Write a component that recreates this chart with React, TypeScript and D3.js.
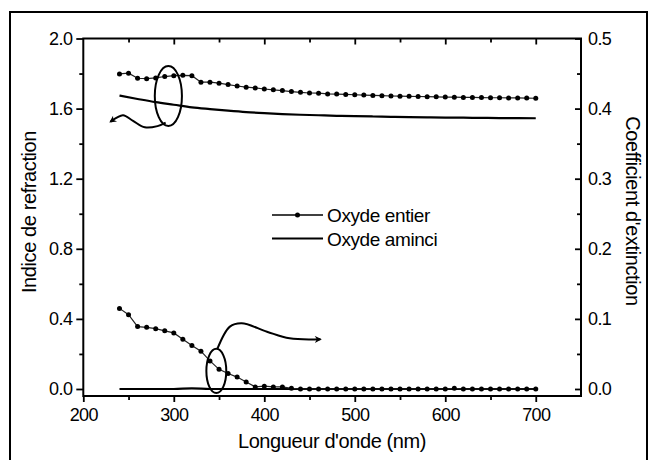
import React, { useRef, useEffect } from "react";
import * as d3 from "d3";

// --- data ---
const wavelengthsDense = [
  240, 250, 260, 270, 280, 290, 300, 310, 320, 330, 340, 350, 360, 370, 380, 390, 400, 410, 420, 430,
  440, 450, 460, 470, 480, 490, 500, 510, 520, 530, 540, 550, 560, 570, 580, 590, 600, 610, 620, 630,
  640, 650, 660, 670, 680, 690, 700,
];
// refractive index, "Oxyde entier" (left axis)
const nEntier = [
  1.798, 1.802, 1.773, 1.771, 1.775, 1.783, 1.788, 1.79, 1.788, 1.751, 1.751, 1.745, 1.737, 1.729, 1.722, 1.718,
  1.712, 1.707, 1.703, 1.697, 1.693, 1.689, 1.688, 1.684, 1.683, 1.681, 1.679, 1.677, 1.675, 1.674, 1.672, 1.671,
  1.67, 1.669, 1.668, 1.667, 1.666, 1.665, 1.664, 1.664, 1.663, 1.662, 1.662, 1.661, 1.661, 1.66, 1.659,
];
// extinction coefficient, "Oxyde entier" (right axis)
const kEntier = [
  0.115, 0.106, 0.089, 0.088, 0.086, 0.083, 0.08, 0.071, 0.062, 0.054, 0.04, 0.028, 0.022, 0.017, 0.01, 0.003,
  0.004, 0.003, 0.003, 0.001, 0, 0, 0, 0, 0, 0, 0, 0, 0, 0, 0, 0,
  0, 0, 0, 0, 0, 0.001, 0, 0, 0, 0, 0, 0, 0, 0, 0,
];

const wavelengthsSolid = [
  240, 260, 280, 300, 320, 340, 360, 380, 400, 420, 440, 460, 480, 500, 520, 540, 560, 580, 600, 620, 640, 660,
  680, 700,
];
// "Oxyde aminci"
const nAminci = [
  1.674, 1.655, 1.637, 1.622, 1.607, 1.597, 1.588, 1.58, 1.574, 1.569, 1.565, 1.562, 1.559, 1.557, 1.555, 1.553,
  1.551, 1.55, 1.549, 1.548, 1.547, 1.546, 1.546, 1.545,
];
const kAminci = [
  0, 0, 0, 0, 0.001, 0, 0, 0, 0, 0, 0, 0, 0, 0, 0, 0, 0, 0, 0, 0, 0, 0, 0, 0,
];

const xTicks = [200, 300, 400, 500, 600, 700];
const leftTicks = [0, 0.4, 0.8, 1.2, 1.6, 2.0];
const rightTicks = [0, 0.1, 0.2, 0.3, 0.4, 0.5];
const legendLabels = ["Oxyde entier", "Oxyde aminci"];

// annotation marks, in data units (nm, left-axis index)
const upperEllipse = { nm: 294, n: 1.672, rnm: 15, rn: 0.171 };
const lowerEllipse = { nm: 347, n: 0.103, rnm: 11, rn: 0.126 };
const upperArrow = [
  [291, 1.52], [282, 1.5], [268, 1.493], [255, 1.53], [244, 1.562], [237, 1.548], [230, 1.525],
];
const lowerArrow = [
  [348, 0.227], [362, 0.356], [375, 0.375], [403, 0.327], [428, 0.289], [462, 0.284],
];

const FONT = "'Liberation Sans', Arial, sans-serif";

const App = () => {
  const svgRef = useRef<SVGSVGElement>(null);

  useEffect(() => {
    const width = 650;
    const height = 460;
    const left = 83.3;
    const right = 581;
    const top = 38.5;
    const bottom = 396;

    const svg = d3.select(svgRef.current);
    svg.selectAll("*").remove();

    // arrow head marker
    svg.append("defs")
      .append("marker")
      .attr("id", "arrowhead")
      .attr("viewBox", "0 0 10 10")
      .attr("refX", 8)
      .attr("refY", 5)
      .attr("markerWidth", 10)
      .attr("markerHeight", 7)
      .attr("markerUnits", "userSpaceOnUse")
      .attr("orient", "auto")
      .append("path")
      .attr("d", "M0,0 L10,5 L0,10 L3,5 Z")
      .attr("fill", "#000");

    // outer frame
    svg.append("rect")
      .attr("x", 10)
      .attr("y", 12)
      .attr("width", 637)
      .attr("height", 470)
      .attr("fill", "none")
      .attr("stroke", "#000")
      .attr("stroke-width", 2);

    const x = d3.scaleLinear().domain([200, 750]).range([left, right]);
    const yL = d3.scaleLinear().domain([-0.04, 2.0]).range([bottom, top]);
    const yR = d3.scaleLinear().domain([-0.01, 0.5]).range([bottom, top]);

    const styleAxis = (g, size) => {
      g.select(".domain").remove();
      g.selectAll(".tick line").attr("stroke", "#000").attr("stroke-width", 1.8);
      g.selectAll(".tick text")
        .attr("fill", "#000")
        .style("font-family", FONT)
        .style("font-size", `${size}px`)
        .style("letter-spacing", "-0.6px");
    };

    // --- bottom axis (ticks outward) ---
    svg.append("g")
      .attr("transform", `translate(0,${bottom})`)
      .call(d3.axisBottom(x).tickValues(xTicks).tickSize(6).tickPadding(6).tickFormat(d3.format("d")))
      .call((g) => styleAxis(g, 18));
    svg.append("g")
      .attr("transform", `translate(0,${bottom})`)
      .call(d3.axisBottom(x).tickValues(d3.range(250, 750, 100)).tickSize(4).tickFormat(() => ""))
      .call((g) => styleAxis(g, 18));

    // --- top axis (ticks inward) ---
    svg.append("g")
      .attr("transform", `translate(0,${top})`)
      .call(d3.axisBottom(x).tickValues([300, 400, 500, 600, 700]).tickSize(6).tickFormat(() => ""))
      .call((g) => styleAxis(g, 18));
    svg.append("g")
      .attr("transform", `translate(0,${top})`)
      .call(d3.axisBottom(x).tickValues(d3.range(250, 750, 100)).tickSize(4).tickFormat(() => ""))
      .call((g) => styleAxis(g, 18));

    // --- left axis (ticks outward) ---
    svg.append("g")
      .attr("transform", `translate(${left},0)`)
      .call(d3.axisLeft(yL).tickValues(leftTicks).tickSize(7).tickPadding(4).tickFormat(d3.format(".1f")))
      .call((g) => styleAxis(g, 18));
    svg.append("g")
      .attr("transform", `translate(${left},0)`)
      .call(d3.axisLeft(yL).tickValues([0.2, 0.6, 1.0, 1.4, 1.8]).tickSize(4).tickFormat(() => ""))
      .call((g) => styleAxis(g, 18));

    // --- right axis (ticks inward, labels outside) ---
    const rightAxis = svg.append("g")
      .attr("transform", `translate(${right},0)`)
      .call(d3.axisLeft(yR).tickValues(rightTicks).tickSize(6).tickFormat(d3.format(".1f")));
    styleAxis(rightAxis, 18);
    rightAxis.selectAll(".tick text").attr("text-anchor", "start").attr("x", 7);
    svg.append("g")
      .attr("transform", `translate(${right},0)`)
      .call(d3.axisLeft(yR).tickValues([0.05, 0.15, 0.25, 0.35, 0.45]).tickSize(4).tickFormat(() => ""))
      .call((g) => styleAxis(g, 18));

    // frame of the plot
    svg.append("rect")
      .attr("x", left)
      .attr("y", top)
      .attr("width", right - left)
      .attr("height", bottom - top)
      .attr("fill", "none")
      .attr("stroke", "#000")
      .attr("stroke-width", 2);

    // --- axis titles ---
    const title = (sel) =>
      sel.attr("text-anchor", "middle")
        .style("font-family", FONT)
        .style("font-size", "20px")
        .style("letter-spacing", "-0.4px")
        .attr("fill", "#000");

    svg.append("text")
      .attr("transform", `translate(36,212) rotate(-90)`)
      .call(title)
      .text("Indice de refraction");

    svg.append("text")
      .attr("transform", `translate(626,211) rotate(90)`)
      .call(title)
      .text("Coefficient d'extinction");

    svg.append("text")
      .attr("x", 332)
      .attr("y", 448)
      .call(title)
      .text("Longueur d'onde (nm)");

    // --- series ---
    const lineL = d3.line<number>()
      .x((_, i) => x(wavelengthsDense[i]))
      .y((d) => yL(d));
    const lineR = d3.line<number>()
      .x((_, i) => x(wavelengthsDense[i]))
      .y((d) => yR(d));
    const lineSolidL = d3.line<number>()
      .x((_, i) => x(wavelengthsSolid[i]))
      .y((d) => yL(d))
      .curve(d3.curveMonotoneX);
    const lineSolidR = d3.line<number>()
      .x((_, i) => x(wavelengthsSolid[i]))
      .y((d) => yR(d))
      .curve(d3.curveMonotoneX);

    svg.append("path").datum(nAminci).attr("d", lineSolidL)
      .attr("fill", "none").attr("stroke", "#000").attr("stroke-width", 2.2);
    svg.append("path").datum(kAminci).attr("d", lineSolidR)
      .attr("fill", "none").attr("stroke", "#000").attr("stroke-width", 2.2);

    svg.append("path").datum(nEntier).attr("d", lineL)
      .attr("fill", "none").attr("stroke", "#222").attr("stroke-width", 1.2);
    svg.append("path").datum(kEntier).attr("d", lineR)
      .attr("fill", "none").attr("stroke", "#222").attr("stroke-width", 1.2);

    svg.append("g").selectAll("circle")
      .data(nEntier)
      .join("circle")
      .attr("cx", (_, i) => x(wavelengthsDense[i]))
      .attr("cy", (d) => yL(d))
      .attr("r", 2.5)
      .attr("fill", "#000");
    svg.append("g").selectAll("circle")
      .data(kEntier)
      .join("circle")
      .attr("cx", (_, i) => x(wavelengthsDense[i]))
      .attr("cy", (d) => yR(d))
      .attr("r", 2.5)
      .attr("fill", "#000");

    // --- annotations: ellipses and arrows ---
    [upperEllipse, lowerEllipse].forEach((e) => {
      svg.append("ellipse")
        .attr("cx", x(e.nm))
        .attr("cy", yL(e.n))
        .attr("rx", x(e.nm + e.rnm) - x(e.nm))
        .attr("ry", yL(e.n) - yL(e.n + e.rn))
        .attr("fill", "none")
        .attr("stroke", "#000")
        .attr("stroke-width", 2);
    });

    const arrowLine = d3.line<number[]>()
      .x((d) => x(d[0]))
      .y((d) => yL(d[1]))
      .curve(d3.curveCatmullRom);
    [upperArrow, lowerArrow].forEach((pts) => {
      svg.append("path")
        .datum(pts)
        .attr("d", arrowLine)
        .attr("fill", "none")
        .attr("stroke", "#000")
        .attr("stroke-width", 2)
        .attr("marker-end", "url(#arrowhead)");
    });

    // --- legend ---
    const legend = svg.append("g").attr("transform", "translate(272,215)");
    legendLabels.forEach((label, i) => {
      const row = legend.append("g").attr("transform", `translate(0,${i * 23.5})`);
      row.append("line")
        .attr("x1", 0).attr("x2", 51).attr("y1", 0).attr("y2", 0)
        .attr("stroke", "#000")
        .attr("stroke-width", i === 0 ? 1.4 : 2.2);
      if (i === 0) {
        row.append("circle").attr("cx", 25.5).attr("cy", 0).attr("r", 2.5).attr("fill", "#000");
      }
      row.append("text")
        .attr("x", 55)
        .attr("y", 7)
        .style("font-family", FONT)
        .style("font-size", "19px")
        .style("letter-spacing", "-0.4px")
        .attr("fill", "#000")
        .text(label);
    });

    svg.attr("width", width).attr("height", height);
  }, []);

  return (
    <svg
      ref={svgRef}
      width={650}
      height={460}
      style={{ position: "absolute", left: 0, top: 0, background: "#fff" }}
    />
  );
};

export default App;
